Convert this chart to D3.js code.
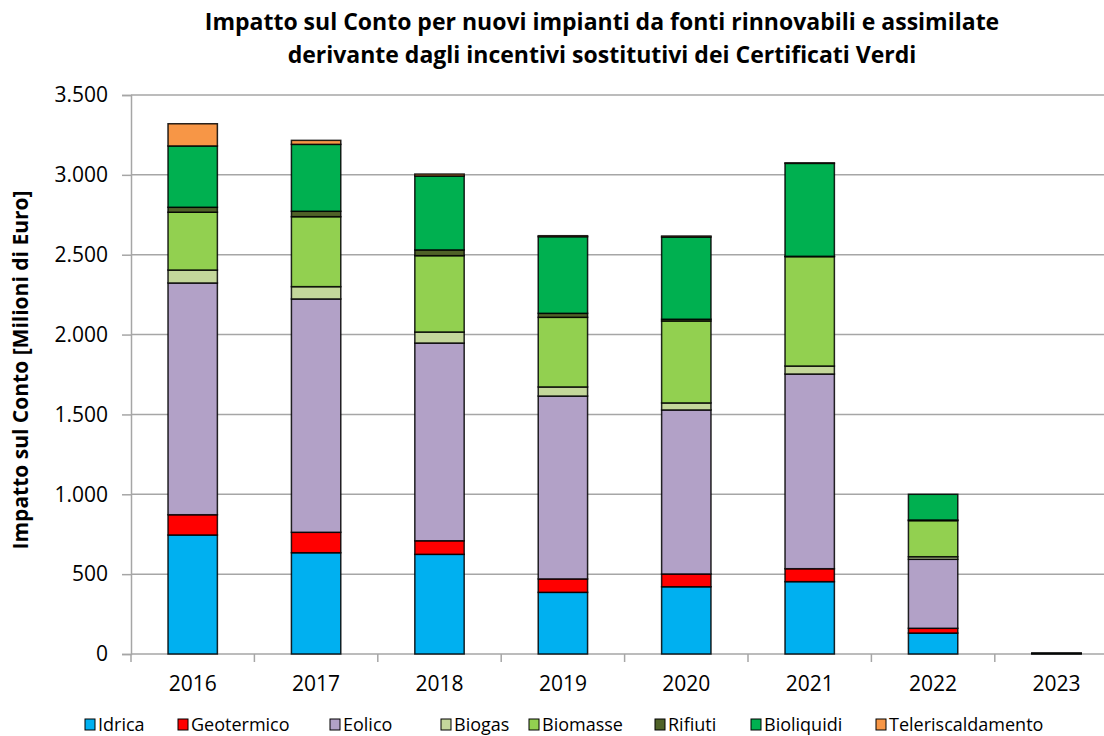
<!DOCTYPE html>
<html>
<head>
<meta charset="utf-8">
<script src="https://cdn.jsdelivr.net/npm/d3@7"></script>
<style>
  body { margin: 0; background: #fff; }
  svg { display: block; font-family: "Open Sans", "Liberation Sans", sans-serif; }
</style>
</head>
<body>
<svg id="chart" width="1104" height="736"></svg>
<script>
// anni e fonti
const years = ['2016', '2017', '2018', '2019', '2020', '2021', '2022', '2023'];
const sources = ['Idrica', 'Geotermico', 'Eolico', 'Biogas', 'Biomasse', 'Rifiuti', 'Bioliquidi', 'Teleriscaldamento'];
const colors = ['#00B0F0', '#FF0000', '#B2A1C7', '#C4D79B', '#92D050', '#4F6228', '#00B050', '#F79646'];

// valori in milioni di euro, uno per anno
const idrica            = [745, 634, 624, 386, 421, 453, 131, 2];
const geotermico        = [127, 128,  85,  84,  80,  81,  30, 0];
const eolico            = [1451, 1461, 1238, 1145, 1027, 1219, 432, 3];
const biogas            = [ 81,  77,  69,  57,  44,  50,  16, 0];
const biomasse          = [362, 438, 478, 436, 513, 685, 226, 0];
const rifiuti           = [ 31,  34,  36,  25,  11,   2,   4, 0];
const bioliquidi        = [384, 419, 463, 480, 515, 582, 161, 1];
const teleriscaldamento = [139,  25,  12,   6,   6,   3,   0, 0];

const yTicks = [0, 500, 1000, 1500, 2000, 2500, 3000, 3500];

const series = [idrica, geotermico, eolico, biogas, biomasse, rifiuti, bioliquidi, teleriscaldamento];
const table = years.map(function(y, i) {
    let row = { year: y };
    sources.forEach(function(s, k) { row[s] = series[k][i]; });
    return row;
});

const svg = d3.select('#chart');
const mLeft = 131, mBottom = 654, mTop = 95;

const x = d3.scaleBand()
    .domain(years)
    .range([mLeft, mLeft + 8 * 123.4])
    .paddingInner(0.6)
    .paddingOuter(0.3);

const y = d3.scaleLinear()
    .domain([0, 3500])
    .range([mBottom, mTop]);

const fmt = function(v) { return d3.format(',')(v).replace(/,/g, '.'); };

// griglia
svg.append('g')
    .selectAll('line')
    .data(yTicks.slice(1))
    .join('line')
    .attr('x1', mLeft).attr('x2', 1104)
    .attr('y1', d => y(d)).attr('y2', d => y(d))
    .attr('stroke', '#a6a6a6')
    .attr('stroke-width', 1.5);

// asse y
const yAxis = svg.append('g')
    .attr('transform', 'translate(' + mLeft + ',0)')
    .call(d3.axisLeft(y).tickValues(yTicks).tickSize(9).tickPadding(14).tickFormat(fmt));
yAxis.select('.domain').attr('stroke', '#a6a6a6').attr('stroke-width', 1.5);
yAxis.selectAll('.tick line').attr('stroke', '#a6a6a6').attr('stroke-width', 1.5);
yAxis.selectAll('.tick text').attr('font-size', 21).attr('fill', '#000')
    .attr('font-family', '"Open Sans", sans-serif');

// asse x
const xAxis = svg.append('g')
    .attr('transform', 'translate(0,' + mBottom + ')')
    .call(d3.axisBottom(x).tickSize(0).tickPadding(22));
xAxis.select('.domain').remove();
xAxis.selectAll('.tick text').attr('font-size', 21).attr('fill', '#000')
    .attr('font-family', '"Open Sans", sans-serif');
svg.append('line')
    .attr('x1', mLeft).attr('x2', 1104)
    .attr('y1', mBottom).attr('y2', mBottom)
    .attr('stroke', '#a6a6a6').attr('stroke-width', 1.5);
svg.append('g')
    .selectAll('line')
    .data(years)
    .join('line')
    .attr('x1', d => x(d) - x.step() * 0.3)
    .attr('x2', d => x(d) - x.step() * 0.3)
    .attr('y1', mBottom).attr('y2', mBottom + 8)
    .attr('stroke', '#a6a6a6').attr('stroke-width', 1.5);

// barre impilate
const stack = d3.stack().keys(sources)(table);
svg.append('g')
    .selectAll('g')
    .data(stack)
    .join('g')
    .attr('fill', (d, i) => colors[i])
    .selectAll('rect')
    .data(d => d)
    .join('rect')
    .attr('x', d => x(d.data.year))
    .attr('width', x.bandwidth())
    .attr('y', d => y(d[1]))
    .attr('height', d => Math.max(0, y(d[0]) - y(d[1])))
    .attr('stroke', d => (d[1] - d[0]) > 0 ? '#000' : 'none')
    .attr('stroke-width', 1.5)
    .attr('stroke-opacity', 0.85);

// titolo
const title = svg.append('text')
    .attr('text-anchor', 'middle')
    .attr('font-weight', 'bold')
    .attr('font-size', 23)
    .attr('fill', '#000');
title.append('tspan').attr('x', 602).attr('y', 30)
    .text('Impatto sul Conto per nuovi impianti da fonti rinnovabili e assimilate');
title.append('tspan').attr('x', 602).attr('y', 63)
    .text('derivante dagli incentivi sostitutivi dei Certificati Verdi');

// titolo asse y
svg.append('text')
    .attr('transform', 'translate(28,' + 370 + ') rotate(-90)')
    .attr('text-anchor', 'middle')
    .attr('font-weight', 'bold')
    .attr('font-size', 21)
    .attr('fill', '#000')
    .text('Impatto sul Conto [Milioni di Euro]');

// legenda
const legendX = [85, 178, 330, 441, 529, 655, 751, 876];
const leg = svg.append('g')
    .selectAll('g')
    .data(sources)
    .join('g')
    .attr('transform', (d, i) => 'translate(' + legendX[i] + ',725)');
leg.append('rect')
    .attr('x', 0).attr('y', -6)
    .attr('width', 10).attr('height', 11)
    .attr('fill', (d, i) => colors[i])
    .attr('stroke', '#000').attr('stroke-width', 1);
leg.append('text')
    .attr('x', 13).attr('y', 6)
    .attr('font-size', 18)
    .attr('fill', '#000')
    .text(d => d);
</script>
</body>
</html>
